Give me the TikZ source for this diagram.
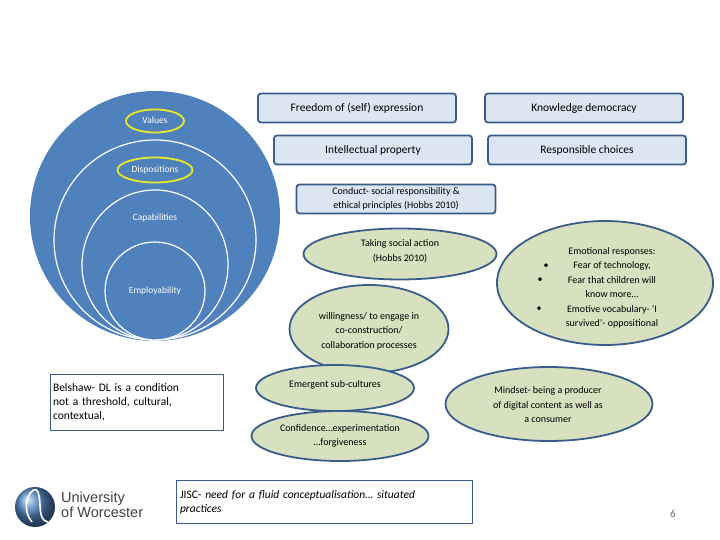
\documentclass[tikz,border=0pt]{standalone}
\usepackage{fontspec}
\setmainfont{Carlito}
\newfontfamily\logofont{Liberation Sans}
\usepackage{xcolor}
\usetikzlibrary{positioning, shapes.geometric}
\definecolor{ringblue}{HTML}{4F81BD}
\definecolor{edgeblue}{HTML}{385D8A}
\definecolor{boxfill}{HTML}{DCE6F2}
\definecolor{ovalfill}{HTML}{D7E0BF}
\definecolor{haloyellow}{HTML}{E8E82A}
\tikzset{
  roundbox/.style={draw=edgeblue, line width=1.8pt, fill=boxfill, rounded corners=3pt,
    align=center, inner sep=0pt, font=\fontsize{11.5}{14}\selectfont},
  oval/.style={draw=edgeblue, line width=1.8pt, fill=ovalfill, ellipse, inner sep=0pt,
    align=center, font=\fontsize{10}{14.5}\selectfont},
  ring/.style={draw=white, line width=1.2pt, fill=ringblue, ellipse, inner sep=0pt},
  ringtext/.style={text=white, font=\fontsize{9.5}{11}\selectfont, inner sep=0pt},
  halo/.style={draw=haloyellow, line width=1.8pt, fill=ringblue, ellipse, inner sep=0pt},
  notebox/.style={draw=edgeblue, line width=0.7pt, fill=white, align=left, inner sep=0pt,
    font=\fontsize{11.5}{14}\selectfont}
}
\begin{document}
\begin{tikzpicture}[x=1pt, y=-1pt]
  \useasboundingbox (0,0) rectangle (720,540);

  % nested circles
  \node[ring, draw=none, minimum width=250pt, minimum height=250pt] (outer) at (155,216) {};
  \node[ring, minimum width=202pt, minimum height=200pt] (disp) at (155,240) {};
  \node[ring, minimum width=146pt, minimum height=150pt] (capa) at (155,265) {};
  \node[ring, minimum width=100pt, minimum height=98pt] (empl) at (155,291) {};

  \node[halo, minimum width=58pt, minimum height=23pt] (valhalo) at (155,121) {};
  \node[halo, minimum width=75pt, minimum height=25pt] (dishalo) at (155,170) {};
  \node[ringtext] (values) at (155,120) {Values};
  \node[ringtext] (dispositions) at (155,170) {Dispositions};
  \node[ringtext] (capabilities) at (155,218) {Capabilities};
  \node[ringtext] (employ) at (155,291) {Employability};

  % top boxes
  \node[roundbox, minimum width=198pt, minimum height=29pt] (freedom) at (357,108) {Freedom of (self) expression};
  \node[roundbox, minimum width=198pt, minimum height=29pt] (knowledge) at (584,108) {Knowledge democracy};
  \node[roundbox, minimum width=198pt, minimum height=29pt] (property) at (373,150) {Intellectual property};
  \node[roundbox, minimum width=198pt, minimum height=29pt] (choices) at (587,150) {Responsible choices};
  \node[roundbox, minimum width=199pt, minimum height=29pt, font=\fontsize{10}{14.5}\selectfont] (conduct) at (396,199)
    {Conduct- social responsibility \&\\ethical principles (Hobbs 2010)};

  % ovals
  \node[oval, minimum width=193pt, minimum height=51pt] (action) at (400,254) {};
  \node[oval, minimum width=216pt, minimum height=124pt] (emotion) at (605,283) {};
  \node[oval, minimum width=159pt, minimum height=88pt] (willing) at (369,329) {};
  \node[oval, minimum width=207pt, minimum height=74pt] (mindset) at (549,404) {};
  \node[oval, minimum width=158pt, minimum height=46pt] (emergent) at (335,388) {};
  \node[oval, minimum width=177pt, minimum height=50pt] (confidence) at (340,436) {};

  \node[font=\fontsize{10}{14.5}\selectfont, align=center] (actiontxt) at (400,251) {Taking social action\\(Hobbs 2010)};
  \node[font=\fontsize{10}{14.5}\selectfont, align=center] (emotiontxt) at (612,288)
    {Emotional responses:\\Fear of technology,\\Fear that children will\\know more\dots\\Emotive vocabulary- `I\\survived'- oppositional};
  \node[font=\fontsize{10}{10}\selectfont] (bulleta) at (546,266) {\textbullet};
  \node[font=\fontsize{10}{10}\selectfont] (bulletb) at (540,280) {\textbullet};
  \node[font=\fontsize{10}{10}\selectfont] (bulletc) at (539,309) {\textbullet};
  \node[font=\fontsize{10}{14.5}\selectfont, align=center] (willingtxt) at (369,331)
    {willingness/ to engage in\\co-construction/\\collaboration processes};
  \node[font=\fontsize{10}{14.5}\selectfont, align=center] (mindsettxt) at (548,405)
    {Mindset- being a producer\\of digital content as well as\\a consumer};
  \node[font=\fontsize{10}{14.5}\selectfont] (emergenttxt) at (335,385) {Emergent sub-cultures};
  \node[font=\fontsize{10}{14.5}\selectfont, align=center] (confidencetxt) at (340,436)
    {Confidence\dots experimentation\\\dots forgiveness};

  % notes
  \node[notebox, minimum width=173pt, minimum height=56pt, text width=168pt] (belshaw) at (137,402)
    {Belshaw- DL is a condition\\not a threshold, cultural,\\contextual,};
  \node[notebox, minimum width=296pt, minimum height=43pt, text width=288pt] (jisc) at (324,502)
    {JISC- \textit{need for a fluid conceptualisation\dots\ situated\\practices}};

  % logo
  \shade[ball color=ringblue] (35,507) circle (20pt);
  \draw[white, line width=1.6pt] (32,522) .. controls (18,505) and (34,482) .. (38,492)
    .. controls (42,503) and (37,520) .. (48,522);
  \node[anchor=west, inner sep=0pt, align=left, text=black!75,
    font={\logofont\fontsize{14.5}{14.5}\selectfont}] (logo) at (61,505) {University\\of Worcester};

  \node[text=gray!80!black, font=\fontsize{11}{13}\selectfont, inner sep=0pt] (pageno) at (673,514) {6};
\end{tikzpicture}
\end{document}
